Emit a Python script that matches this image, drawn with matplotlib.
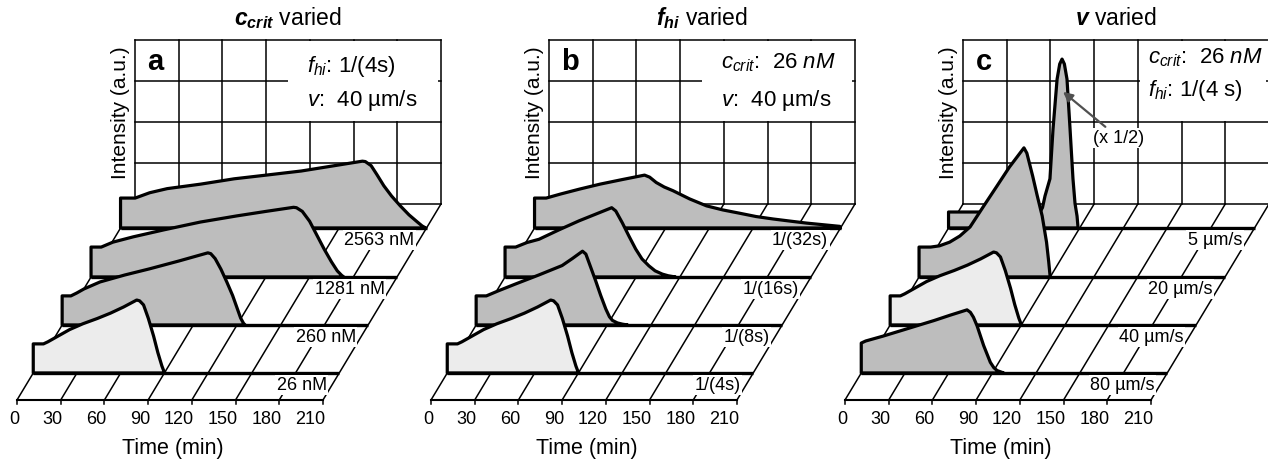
import matplotlib
matplotlib.use('Agg')
import matplotlib.pyplot as plt
from matplotlib.transforms import Affine2D
from matplotlib.patches import Rectangle

plt.rcParams['font.family'] = ['Liberation Sans', 'DejaVu Sans']
plt.rcParams['mathtext.fontset'] = 'custom'
plt.rcParams['mathtext.rm'] = 'Liberation Sans'
plt.rcParams['mathtext.it'] = 'Liberation Sans:italic'
plt.rcParams['mathtext.bf'] = 'Liberation Sans:bold'
plt.rcParams['mathtext.bfit'] = 'Liberation Sans:bold:italic'

# ------------------------------------------------------------------ data
time_ticks = [0, 30, 60, 90, 120, 150, 180, 210]
wall_levels = [0, 1, 2, 3, 4]

# reference trace: c_crit 26 nM, f_hi 1/(4s), v 40 um/s
ref_t = [0, 0, 7, 10, 17, 25, 34, 44, 53, 62, 71, 73, 75.7, 79, 82.6, 85.5, 88.3, 89.8, 90.6]
ref_i = [0, 0.71, 0.71, 0.76, 0.90, 1.06, 1.20, 1.33, 1.46, 1.61, 1.78, 1.76, 1.66, 1.33, 0.90, 0.50, 0.17, 0.03, 0]

# panel a: c_crit varied
a_260_t = [0, 0, 6, 10, 15, 26, 43, 60, 80, 100, 102, 105, 109, 113, 117, 120, 122.5, 124.5, 125.6]
a_260_i = [0, 0.71, 0.71, 0.78, 0.88, 1.05, 1.22, 1.37, 1.56, 1.76, 1.74, 1.62, 1.36, 1.05, 0.72, 0.42, 0.17, 0.04, 0]
a_1281_t = [0, 0, 7, 15, 29, 50, 75, 100, 120, 139, 141, 145, 150, 155, 160, 165, 169, 172, 173.5]
a_1281_i = [0, 0.73, 0.73, 0.85, 0.98, 1.15, 1.34, 1.49, 1.60, 1.70, 1.69, 1.60, 1.36, 1.02, 0.68, 0.37, 0.15, 0.04, 0]
a_2563_t = [0, 0, 10, 20, 32, 55, 78, 100, 124, 145, 166, 168, 172, 176, 180.7, 186, 192, 198, 203.6, 207, 209.5]
a_2563_i = [0, 0.73, 0.73, 0.86, 0.96, 1.07, 1.20, 1.29, 1.39, 1.51, 1.63, 1.62, 1.52, 1.30, 1.03, 0.78, 0.54, 0.32, 0.15, 0.05, 0]
a_labels = ['26 nM', '260 nM', '1281 nM', '2563 nM']

# panel b: f_hi varied
b_8_t = [0, 0, 7, 15, 27, 43, 59, 66, 73, 75.3, 78.5, 82.1, 85.5, 89, 91.5, 93.6, 97, 100.5, 104]
b_8_i = [0, 0.71, 0.71, 0.83, 1.0, 1.22, 1.45, 1.62, 1.80, 1.73, 1.42, 1.07, 0.72, 0.39, 0.20, 0.11, 0.05, 0.02, 0]
b_16_t = [0, 0, 7.3, 15, 23.3, 37, 50.8, 62, 73.2, 76, 80.5, 85, 89.7, 94, 98.8, 103, 108, 112, 117]
b_16_i = [0, 0.73, 0.73, 0.84, 0.92, 1.15, 1.37, 1.53, 1.69, 1.61, 1.32, 1.0, 0.68, 0.44, 0.27, 0.15, 0.07, 0.03, 0]
b_32_t = [0, 0, 8, 18, 31, 45, 60, 75.5, 79, 83.5, 89, 95, 106.4, 118, 129.3, 140.8, 152, 163.7, 175, 186.6, 198, 209.5, 210]
b_32_i = [0, 0.73, 0.73, 0.83, 0.95, 1.07, 1.18, 1.29, 1.24, 1.11, 1.0, 0.91, 0.71, 0.54, 0.44, 0.36, 0.28, 0.22, 0.17, 0.12, 0.08, 0.04, 0]
b_labels = ['1/(4s)', '1/(8s)', '1/(16s)', '1/(32s)']

# panel c: v varied
c_80_t = [0, 0, 3, 15, 27, 38, 50, 61, 72.6, 74.9, 77, 79.5, 84, 88.6, 91, 93.2, 97.8]
c_80_i = [0, 0.73, 0.78, 0.90, 1.03, 1.15, 1.28, 1.41, 1.54, 1.48, 1.36, 1.15, 0.67, 0.26, 0.13, 0.06, 0]
c_20_t = [0, 0, 8, 14, 21, 28, 35, 44, 53.5, 62, 72, 74, 78, 81, 84.5, 87.5, 89, 90]
c_20_i = [0, 0.73, 0.73, 0.76, 0.85, 1.0, 1.22, 1.71, 2.22, 2.68, 3.15, 3.02, 2.46, 2.0, 1.49, 0.85, 0.37, 0]
c_5_t = [0, 0, 62.8, 64.5, 66.2, 69.6, 71.7, 74.5, 76.3, 77.9, 79.5, 81.3, 83.4, 85.4, 86.8, 88.2, 88.9]
c_5_i = [0, 0.39, 0.39, 0.5, 0.78, 1.2, 2.41, 3.63, 4.0, 4.12, 4.0, 3.63, 2.41, 1.2, 0.6, 0.29, 0]
c_labels = ['80 µm/s', '40 µm/s', '20 µm/s', '5 µm/s']

# ------------------------------------------------------------------ layout
W, H, DPI = 1268, 464, 100
PX_T = 1.457          # px per minute
PX_I = 41.0           # px per intensity unit
SHEAR = 0.602         # horizontal px per px of depth
FRONT_Y = 401         # px from top of front axis
ROW_DEPTH = [27, 75, 123, 172]
WALL_DEPTH = 196
PANEL_X0 = [17, 431, 845]
MID = '#bdbdbd'
LIGHT = '#ececec'

fig = plt.figure(figsize=(W / DPI, H / DPI), dpi=DPI)


def make_ax(x0):
    ax = fig.add_axes([0, 0, 1, 1])
    ax.set_xlim(-x0 / PX_T, (W - x0) / PX_T)
    ax.set_ylim(-(H - FRONT_Y) / PX_I, FRONT_Y / PX_I)
    ax.axis('off')
    ax.patch.set_alpha(0)
    return ax


def depth_tf(ax, d):
    return Affine2D().translate(SHEAR * d / PX_T, d / PX_I) + ax.transData


def draw_panel(x0, rows, colors, labels, title, letter, box_t0, box_lines):
    ax = make_ax(x0)
    tmax = time_ticks[-1]
    wt = depth_tf(ax, WALL_DEPTH)
    # wall grid
    for t in time_ticks:
        ax.plot([t, t], [wall_levels[0], wall_levels[-1]], color='black', lw=1.1,
                transform=wt, zorder=1)
    for lv in wall_levels:
        ax.plot([0, tmax], [lv, lv], color='black', lw=1.1, transform=wt, zorder=1)
    # floor grid
    ddx = SHEAR * WALL_DEPTH / PX_T
    ddy = WALL_DEPTH / PX_I
    for t in time_ticks:
        ax.plot([t, t + ddx], [0, ddy], color='black', lw=1.1, zorder=1)
        ax.plot([t, t], [0, -4 / PX_I], color='black', lw=1.1, zorder=1)
        ax.text(t + 2 / PX_T, -19 / PX_I, str(t), ha='right', va='center',
                fontsize=13, zorder=5)
    ax.plot([0, tmax], [0, 0], color='black', lw=1.5, zorder=5)
    # text box on wall
    ax.add_patch(Rectangle((box_t0, 2.03), 208 - box_t0, 1.94, facecolor='white',
                           edgecolor='none', transform=wt, zorder=2))
    for (tx, ty, s) in box_lines:
        ax.text(tx, ty, s, transform=wt, ha='left', va='center', fontsize=16, zorder=3)
    ax.text(8.5, 3.49, letter, transform=wt, ha='left', va='center', fontsize=21,
            fontweight='bold', zorder=3)
    ax.text(tmax / 2, 4.39, title, transform=wt, ha='center', va='baseline',
            fontsize=16.5, zorder=3)
    ax.text(-10, 2.24, 'Intensity (a.u.)', transform=wt, rotation=90, ha='center',
            va='center', fontsize=15, zorder=3)
    ax.text(107, -1.15, 'Time (min)', ha='center', va='center', fontsize=15.5, zorder=5)
    # rows, back to front
    for k in reversed(range(len(rows))):
        t, i = rows[k]
        d = ROW_DEPTH[k]
        tf = depth_tf(ax, d)
        z = 10 + 2 * (len(rows) - 1 - k)
        ax.fill(t, i, facecolor=colors[k], edgecolor='black', lw=2.3,
                joinstyle='round', transform=tf, zorder=z)
        ax.plot([0, tmax], [0, 0], color='black', lw=2.4, transform=tf, zorder=z,
                solid_capstyle='butt')
        ax.text(tmax - 3.5, 0, labels[k], transform=depth_tf(ax, d - 12), ha='right',
                va='center', fontsize=13, zorder=z + 1,
                bbox=dict(boxstyle='square,pad=0.08', facecolor='white', edgecolor='none'))
    return ax


draw_panel(PANEL_X0[0],
           [(ref_t, ref_i), (a_260_t, a_260_i), (a_1281_t, a_1281_i), (a_2563_t, a_2563_i)],
           [LIGHT, MID, MID, MID], a_labels,
           r'$\mathbfit{c}_{\mathbfit{crit}}$ varied', 'a', 105,
           [(118, 3.37, r'$f_{hi}$: 1/(4s)'), (118, 2.56, r'$v$:  40 µm/s')])

draw_panel(PANEL_X0[1],
           [(ref_t, ref_i), (b_8_t, b_8_i), (b_16_t, b_16_i), (b_32_t, b_32_i)],
           [LIGHT, MID, MID, MID], b_labels,
           r'$\mathbfit{f}_{\mathbfit{hi}}$ varied', 'b', 105,
           [(118, 3.46, r'$c_{crit}$:  $26\ nM$'), (118, 2.56, r'$v$:  40 µm/s')])

axc = draw_panel(PANEL_X0[2],
                 [(c_80_t, c_80_i), (ref_t, ref_i), (c_20_t, c_20_i), (c_5_t, c_5_i)],
                 [MID, LIGHT, MID, MID], c_labels,
                 r'$\mathbfit{v}$ varied', 'c', 121.5,
                 [(127, 3.59, r'$c_{crit}$:  $26\ nM$'), (127, 2.8, r'$f_{hi}$: 1/(4 s)')])

axc.annotate('(x 1/2)', xy=(78.6, 3.32), xycoords=depth_tf(axc, ROW_DEPTH[3]),
             xytext=(107, 1.61), textcoords=depth_tf(axc, WALL_DEPTH),
             ha='center', va='center', fontsize=13, zorder=30,
             bbox=dict(boxstyle='square,pad=0.1', facecolor='white', edgecolor='none'),
             arrowprops=dict(arrowstyle='-|>', color='#505050', lw=1.6,
                             mutation_scale=14, shrinkA=1, shrinkB=0))

fig.savefig('out.png', dpi=DPI)
